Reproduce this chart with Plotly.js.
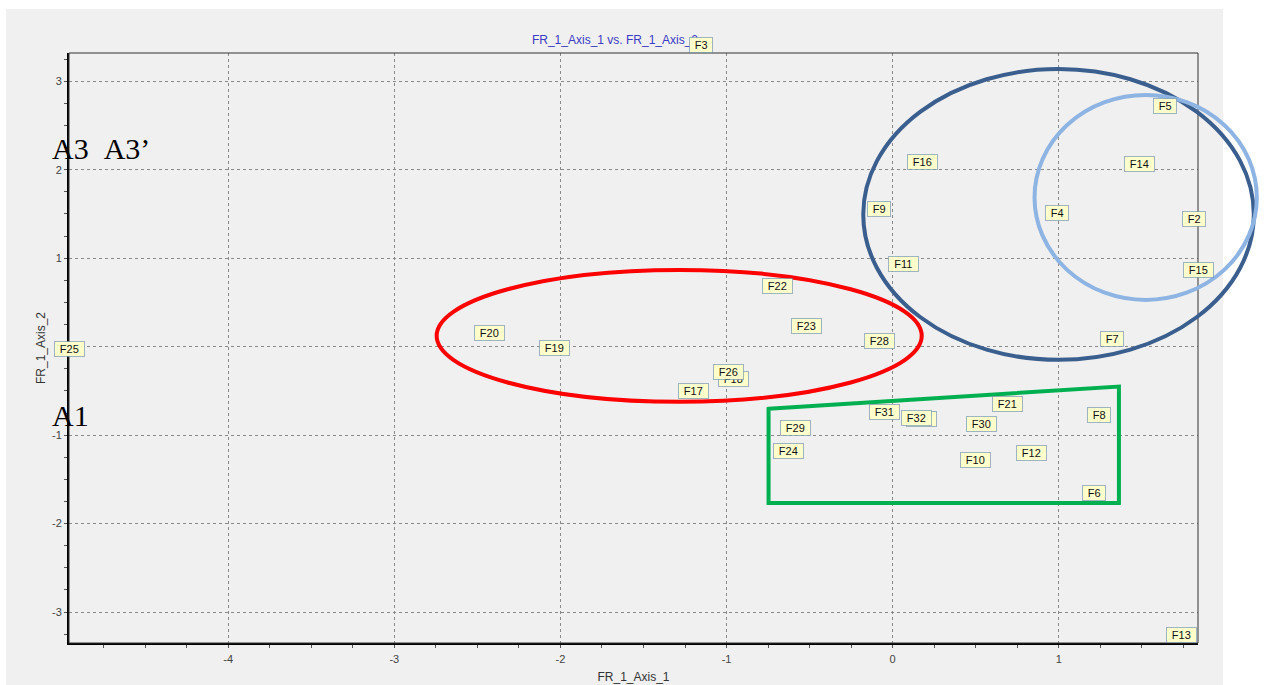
<!DOCTYPE html>
<html>
<head>
<meta charset="utf-8">
<script src="https://cdn.plot.ly/plotly-3.0.1.min.js"></script>
<style>html,body{margin:0;padding:0;background:#fff;}#chart{width:1264px;height:685px;}</style>
</head>
<body>
<div id="chart"></div>
<script>
// ---- data ----
const labels = ['F2','F3','F4','F5','F6','F7','F8','F9','F10','F11','F12','F13','F14','F15','F16',
                'F17','F18','F19','F20','F21','F22','F23','F24','F25','F26','F27','F28','F29','F30','F31','F32'];
const axis1 = [1.814,-1.153,0.991,1.641,1.211,1.322,1.244,-0.082,0.498,0.063,0.838,1.737,1.485,1.838,0.182,
               -1.200,-0.958,-2.033,-2.429,0.690,-0.693,-0.516,-0.629,-4.958,-0.989,0.172,-0.082,-0.586,0.533,-0.048,0.145];
const axis2 = [1.351,3.320,1.425,2.627,-1.750,0.001,-0.858,1.470,-1.373,0.849,-1.287,-3.350,1.978,0.774,1.998,
               -0.593,-0.458,-0.104,0.069,-0.733,0.597,0.145,-1.271,-0.119,-0.375,-0.910,-0.028,-1.008,-0.959,-0.830,-0.895];

const xTickVals = [-4,-3,-2,-1,0,1];
const xTickText = ['-4','-3','-2','-1','0','1'];
const yTickVals = [-3,-2,-1,0,1,2,3];
const yTickText = ['-3','-2','-1','0','1','2','3'];

// hand-drawn group outlines (data units)
const darkBlueEllipse  = [-0.177, -0.149, 2.174, 3.139];   // x0,y0,x1,y1
const lightBlueEllipse = [0.854, 0.529, 2.192, 2.845];
const redEllipse       = [-2.745, -0.623, 0.175, 0.868];
const greenPolyX = [-0.747, 1.362, 1.362, -0.747];
const greenPolyY = [-0.703, -0.451, -1.768, -1.768];

const groupNotes = ['A3\u00a0\u00a0A3\u2019', 'A1'];

// ---- layout ----
const eps = 1e-6;
const xr = [Math.min(...axis1) - eps, Math.max(...axis1) + eps];
const yr = [Math.min(...axis2) - eps, Math.max(...axis2) + eps];
const px = v => (v - xr[0]) / (xr[1] - xr[0]);
const py = v => (v - yr[0]) / (yr[1] - yr[0]);

const W = 1264, H = 685;
const M = {l:69, r:66, t:53, b:42};
const pw = W - M.l - M.r, ph = H - M.t - M.b;
const fx = p => (p - M.l) / pw;          // pixel -> paper x
const fy = p => (H - M.b - p) / ph;      // pixel -> paper y

const sans = 'Arial, "Liberation Sans", sans-serif';

const annotations = labels.map((t, i) => ({
  x: axis1[i], y: axis2[i], xref: 'x', yref: 'y',
  text: t, showarrow: false,
  xanchor: 'center', yanchor: 'bottom',
  font: {family: sans, size: 11, color: '#111'},
  bgcolor: '#ffffcc', bordercolor: '#46709e', borderwidth: 1, borderpad: 1,
  width: 8 + 6.2 * t.length, height: 12, align: 'center', valign: 'middle'
}));
annotations.push({
  xref: 'paper', yref: 'paper', x: fx(50), y: fy(148), xanchor: 'left', yanchor: 'middle',
  text: groupNotes[0], showarrow: false,
  font: {family: '"Times New Roman", "Liberation Serif", serif', size: 30, color: '#000'}
});
annotations.push({
  xref: 'paper', yref: 'paper', x: fx(50), y: fy(415), xanchor: 'left', yanchor: 'middle',
  text: groupNotes[1], showarrow: false,
  font: {family: '"Times New Roman", "Liberation Serif", serif', size: 30, color: '#000'}
});

const ell = (e, color) => ({
  type: 'circle', xref: 'paper', yref: 'paper', layer: 'above',
  x0: px(e[0]), y0: py(e[1]), x1: px(e[2]), y1: py(e[3]),
  line: {color: color, width: 4}
});
const polyPath = 'M ' + greenPolyX.map((x, i) => px(x) + ',' + py(greenPolyY[i])).join(' L ') + ' Z';

const shapes = [
  // grey panel
  {type: 'rect', xref: 'paper', yref: 'paper', layer: 'below',
   x0: fx(6), x1: fx(1223), y0: fy(685), y1: fy(9),
   fillcolor: '#f0f0f0', line: {width: 0}},
  // thin frame (top/right)
  {type: 'rect', xref: 'paper', yref: 'paper', layer: 'above',
   x0: 0, x1: 1, y0: 0, y1: 1, line: {color: '#333', width: 1}},
  ell(darkBlueEllipse, '#3a5f8e'),
  ell(lightBlueEllipse, '#8db4e2'),
  ell(redEllipse, '#ff0000'),
  {type: 'path', xref: 'paper', yref: 'paper', layer: 'above', path: polyPath,
   line: {color: '#00b050', width: 4}}
];

const axisCommon = {
  showline: true, linecolor: '#000', linewidth: 2, mirror: false,
  showgrid: true, gridcolor: '#8a8a8a', gridwidth: 1, griddash: '3px,3px',
  zeroline: false, ticks: 'outside', ticklen: 3, tickcolor: '#555', tickwidth: 1,
  tickfont: {family: sans, size: 11, color: '#444'},
  tickmode: 'array', automargin: false, fixedrange: true
};

const layout = {
  width: W, height: H, margin: M,
  paper_bgcolor: '#ffffff', plot_bgcolor: 'rgba(0,0,0,0)',
  showlegend: false,
  title: {text: 'FR_1_Axis_1 vs. FR_1_Axis_2', font: {family: sans, size: 12, color: '#3b3bc4'},
          xref: 'paper', x: fx(615), xanchor: 'center', yref: 'container', y: 1 - 40 / H, yanchor: 'middle'},
  xaxis: Object.assign({}, axisCommon, {
    range: xr, tickvals: xTickVals, ticktext: xTickText, ticklabelstandoff: 2,
    minor: {tickmode: 'linear', tick0: 0, dtick: 0.25, ticks: 'outside', ticklen: 3, tickcolor: '#555', showgrid: false},
    title: {text: 'FR_1_Axis_1', font: {family: sans, size: 12, color: '#333'}, standoff: 8}
  }),
  yaxis: Object.assign({}, axisCommon, {
    range: yr, tickvals: yTickVals, ticktext: yTickText,
    minor: {tickmode: 'linear', tick0: 0, dtick: 0.25, ticks: 'outside', ticklen: 3, tickcolor: '#555', showgrid: false},
    title: {text: 'FR_1_Axis_2', font: {family: sans, size: 12, color: '#333'}, standoff: 4}
  }),
  shapes: shapes,
  annotations: annotations
};

const traces = [{
  type: 'scatter', mode: 'markers', x: axis1, y: axis2, text: labels,
  marker: {size: 1, opacity: 0}, hoverinfo: 'text'
}];

Plotly.newPlot('chart', traces, layout, {displayModeBar: false, responsive: false}).then(() => {
  document.querySelectorAll('.annotation rect.bg').forEach(r => {
    const sw = parseFloat(r.style.strokeWidth || r.getAttribute('stroke-width') || 0);
    if (sw > 0) r.style.strokeDasharray = '1,1';
  });
});
</script>
</body>
</html>
